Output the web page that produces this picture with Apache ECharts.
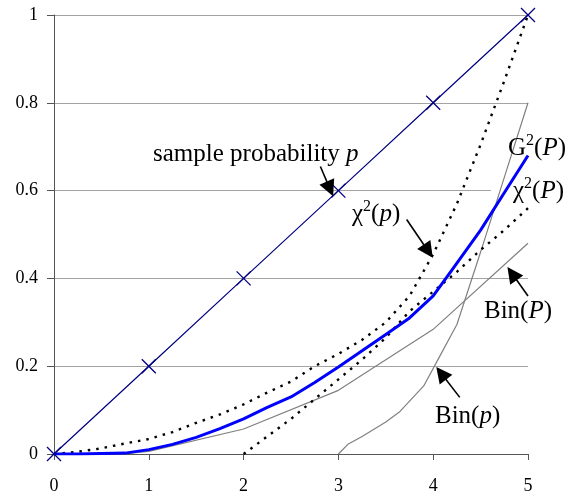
<!DOCTYPE html>
<html>
<head>
<meta charset="utf-8">
<script src="https://cdn.jsdelivr.net/npm/echarts@6/dist/echarts.min.js"></script>
<style>
  html, body { margin: 0; padding: 0; background: #fff; }
  #chart { width: 576px; height: 495px; }
</style>
</head>
<body>
<div id="chart"></div>
<script>
// x values and curves
const sampleX = [0, 1, 2, 3, 4, 5]
const sampleP = [0, 0.2, 0.4, 0.6, 0.8, 1]

const fineX = [0, 0.25, 0.5, 0.75, 1, 1.25, 1.5, 1.75, 2, 2.25, 2.5, 2.75, 3, 3.25, 3.5, 3.75, 4, 4.25, 4.5, 4.75, 5]
const g2P = [0, 0, 0.001, 0.002, 0.01, 0.022, 0.038, 0.058, 0.08, 0.106, 0.13, 0.163, 0.198, 0.235, 0.272, 0.31, 0.36, 0.435, 0.51, 0.595, 0.68]
const chi2p = [0, 0.005, 0.013, 0.024, 0.034, 0.05, 0.071, 0.09, 0.113, 0.14, 0.165, 0.2, 0.228, 0.26, 0.3, 0.36, 0.455, 0.57, 0.705, 0.85, 1]

const chi2PX = [2, 2.25, 2.5, 2.75, 3, 3.25, 3.5, 3.75, 4, 4.25, 4.5, 4.75, 5]
const chi2P = [0, 0.04, 0.08, 0.125, 0.17, 0.215, 0.265, 0.325, 0.37, 0.415, 0.465, 0.51, 0.56]

const binPX = [0, 0.75, 1, 2, 3, 4, 5]
const binP = [0, 0.001, 0.006, 0.057, 0.145, 0.284, 0.48]

const binpX = [3, 3.1, 3.25, 3.5, 3.65, 3.9, 4.05, 4.25, 4.5, 4.75, 5]
const binp = [0, 0.022, 0.04, 0.073, 0.097, 0.155, 0.215, 0.295, 0.46, 0.63, 0.8]

// arrows: [from, to] in data units (to = centre of the head)
const arrows = [
  [[2.81, 0.655], [2.911, 0.604]],
  [[3.72, 0.534], [3.948, 0.462]],
  [[5.0, 0.36], [4.832, 0.411]],
  [[4.28, 0.129], [4.084, 0.184]]
]

const pairs = (xs, ys) => xs.map((x, i) => [x, ys[i]])

const serif = '"Liberation Serif", "Times New Roman", serif'
const rich = {
  n: { fontFamily: serif, fontSize: 25, color: '#000' },
  i: { fontFamily: serif, fontSize: 25, fontStyle: 'italic', color: '#000' },
  s: { fontFamily: serif, fontSize: 16, color: '#000', padding: [0, 0, 14, 0] }
}

function label(x, y, text) {
  return {
    type: 'text',
    x: x,
    y: y,
    z: 100,
    silent: true,
    style: {
      text: text,
      rich: rich,
      fill: '#000',
      font: '25px ' + serif,
      verticalAlign: 'middle'
    }
  }
}

const myChart = echarts.init(document.getElementById('chart'))
myChart.setOption({
  animation: false,
  backgroundColor: '#fff',
  grid: {
    left: 54,
    right: 48,
    top: 15,
    bottom: 40
  },
  xAxis: {
    type: 'value',
    min: 0,
    max: 5,
    interval: 1,
    axisLine: { lineStyle: { color: '#555', width: 1 } },
    axisTick: { show: true, length: 6, lineStyle: { color: '#555' } },
    splitLine: { show: false },
    axisLabel: {
      margin: 23,
      color: '#000',
      fontFamily: serif,
      fontSize: 18
    }
  },
  yAxis: {
    type: 'value',
    min: 0,
    max: 1,
    interval: 0.2,
    axisLine: { show: true, lineStyle: { color: '#555', width: 1 } },
    axisTick: { show: true, length: 7, lineStyle: { color: '#555' } },
    splitLine: { show: true, lineStyle: { color: '#a3a3a3', width: 1 } },
    axisLabel: {
      margin: 16,
      color: '#000',
      fontFamily: serif,
      fontSize: 18
    }
  },
  graphic: [
    { type: 'rect', shape: { x: 491, y: 180, width: 85, height: 24 }, style: { fill: '#fff' }, z: 1, silent: true },
    label(153, 154, '{n|sample probability }{i|p}'),
    label(352, 214, '{n|χ}{s|2}{n|(}{i|p}{n|)}'),
    label(508, 148, '{n|G}{s|2}{n|(}{i|P}{n|)}'),
    label(513, 191, '{n|χ}{s|2}{n|(}{i|P}{n|)}'),
    label(484, 311, '{n|Bin(}{i|P}{n|)}'),
    label(435, 416, '{n|Bin(}{i|p}{n|)}')
  ],
  series: [
    {
      name: 'Bin(P)',
      type: 'line',
      data: pairs(binPX, binP),
      showSymbol: false,
      lineStyle: { color: '#808080', width: 1.2 }
    },
    {
      name: 'Bin(p)',
      type: 'line',
      data: pairs(binpX, binp),
      showSymbol: false,
      lineStyle: { color: '#808080', width: 1.2 }
    },
    {
      name: 'chi2(P)',
      type: 'line',
      data: pairs(chi2PX, chi2P),
      showSymbol: false,
      itemStyle: { color: '#000' },
      lineStyle: { color: '#000', width: 2.4, type: [2.5, 6] }
    },
    {
      name: 'chi2(p)',
      type: 'line',
      data: pairs(fineX, chi2p),
      showSymbol: false,
      itemStyle: { color: '#000' },
      lineStyle: { color: '#000', width: 2.4, type: [2.5, 6] },
      markLine: {
        silent: true,
        symbol: ['none', 'triangle'],
        symbolSize: 16,
        label: { show: false },
        itemStyle: { color: '#000' },
        lineStyle: { color: '#000', width: 1.6, type: 'solid' },
        data: arrows.map(a => [{ coord: a[0] }, { coord: a[1] }])
      }
    },
    {
      name: 'G2(P)',
      type: 'line',
      data: pairs(fineX, g2P),
      showSymbol: false,
      lineStyle: { color: '#0000ff', width: 3 }
    },
    {
      name: 'sample probability p',
      type: 'line',
      data: pairs(sampleX, sampleP),
      symbol: 'path://M0,0L10,10M10,0L0,10',
      symbolSize: 14,
      itemStyle: { color: 'none', borderColor: '#000080', borderWidth: 1.3 },
      lineStyle: { color: '#000080', width: 1.2 }
    }
  ]
})
</script>
</body>
</html>
